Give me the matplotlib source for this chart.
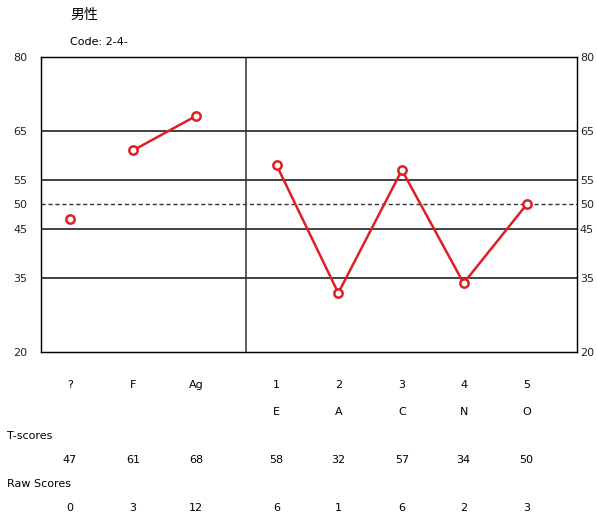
import matplotlib.pyplot as plt
from matplotlib.transforms import blended_transform_factory

plt.rcParams['font.family'] = ['DejaVu Sans', 'Noto Sans CJK SC']

scales = ["?", "F", "Ag", "1", "2", "3", "4", "5"]
factors = ["", "", "", "E", "A", "C", "N", "O"]
t_scores = [47, 61, 68, 58, 32, 57, 34, 50]
raw_scores = [0, 3, 12, 6, 1, 6, 2, 3]
y_ticks = [20, 35, 45, 50, 55, 65, 80]
grid_solid = [35, 45, 55, 65]

# x positions: validity scales on the left, five factors on the right
xpos = [0, 1, 2, 3.28, 4.26, 5.27, 6.25, 7.25]
divider = 2.79

fig = plt.figure(figsize=(5.97, 5.18), dpi=100)
ax = fig.add_axes([41 / 597, 1 - 352 / 518, 536 / 597, 295 / 518])
ax.set_xlim(-0.46, 8.05)
ax.set_ylim(20, 80)

for y in grid_solid:
    ax.axhline(y, color="#333333", lw=1.3, zorder=1)
ax.axhline(50, color="#333333", lw=1.0, ls=(0, (3, 2)), zorder=1)
ax.axvline(divider, color="#333333", lw=1.1, zorder=1)

red = "#dd1f26"
mk = dict(marker="o", ms=6, mfc="white", mec=red, mew=1.8, color=red, lw=1.8, zorder=3)
ax.plot(xpos[0:1], t_scores[0:1], **mk)
ax.plot(xpos[1:3], t_scores[1:3], **mk)
ax.plot(xpos[3:], t_scores[3:], **mk)

ax.set_xticks([])
ax.set_yticks(y_ticks)
ax.tick_params(axis="y", length=0, labelsize=8, colors="#222222", pad=10)
for s in ax.spines.values():
    s.set_color("#222222")
    s.set_linewidth(1.0)

axr = ax.twinx()
axr.set_ylim(20, 80)
axr.set_yticks(y_ticks)
axr.tick_params(axis="y", length=0, labelsize=8, colors="#222222", pad=2)

fs = 8
fig.text(70 / 597, 1 - 15 / 518, "男性", fontsize=10, va="center", ha="left")
fig.text(70 / 597, 1 - 42 / 518, "Code: 2-4-", fontsize=fs, va="center", ha="left")

tr = blended_transform_factory(ax.transData, fig.transFigure)
for x, s, f, t, r in zip(xpos, scales, factors, t_scores, raw_scores):
    ax.text(x, 1 - 385 / 518, s, fontsize=fs, ha="center", va="center", transform=tr)
    ax.text(x, 1 - 412 / 518, f, fontsize=fs, ha="center", va="center", transform=tr)
    ax.text(x, 1 - 460 / 518, str(t), fontsize=fs, ha="center", va="center", transform=tr)
    ax.text(x, 1 - 508 / 518, str(r), fontsize=fs, ha="center", va="center", transform=tr)

fig.text(7 / 597, 1 - 436 / 518, "T-scores", fontsize=fs, va="center", ha="left")
fig.text(7 / 597, 1 - 484 / 518, "Raw Scores", fontsize=fs, va="center", ha="left")

fig.savefig("out.png", dpi=100)
